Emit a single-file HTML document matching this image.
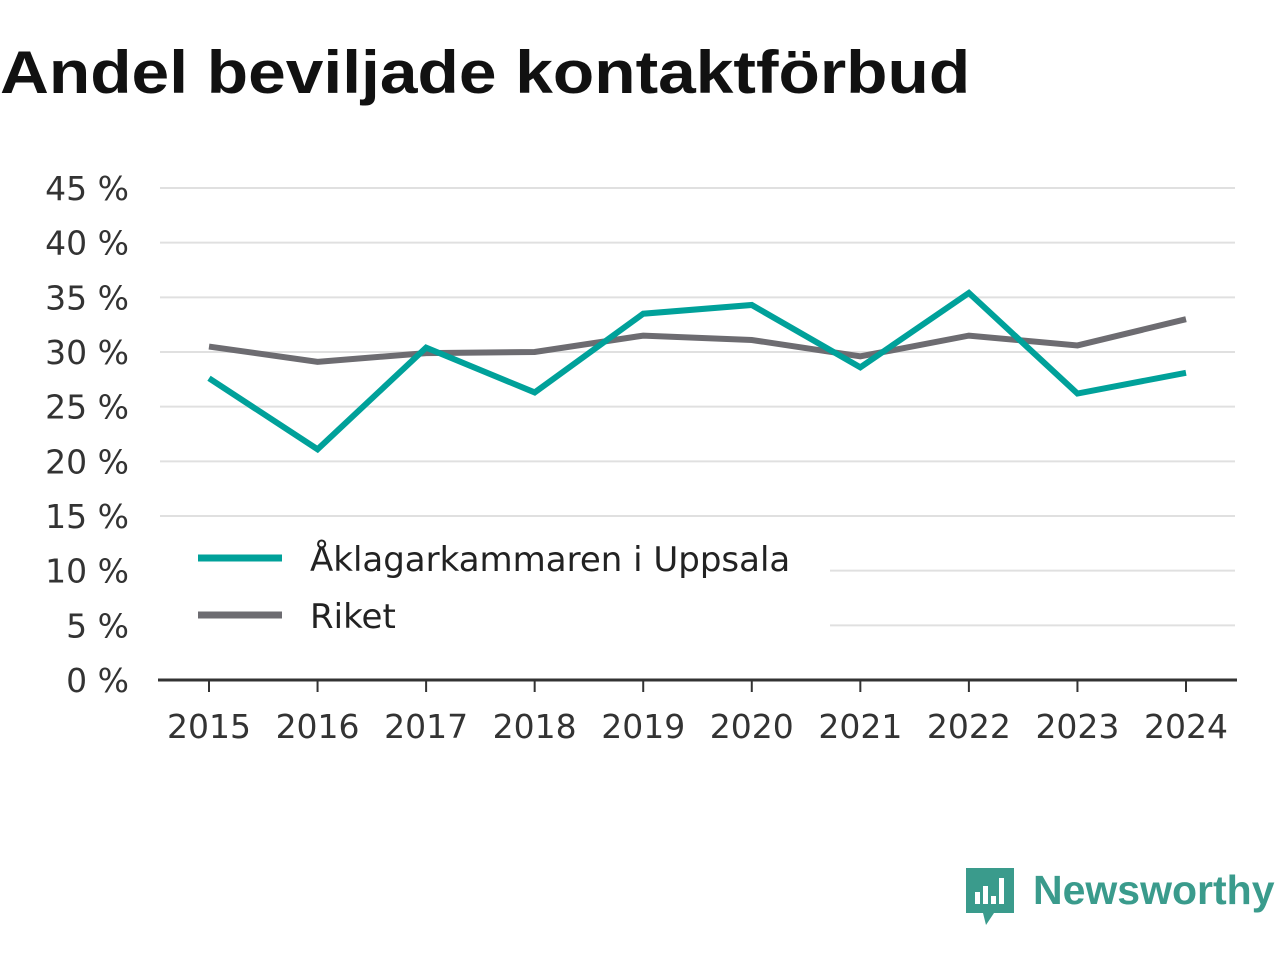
<!DOCTYPE html>
<html><head><meta charset="utf-8"><style>
body{margin:0;width:1280px;height:960px;background:#fff;font-family:"Liberation Sans","DejaVu Sans",sans-serif;overflow:hidden}
h1{position:absolute;left:0;top:38px;margin:0;font-size:60px;font-weight:bold;color:#111;transform:scaleX(1.128);transform-origin:0 0;white-space:nowrap}
</style></head><body>
<h1>Andel beviljade kontaktförbud</h1>
<svg id="c" width="1280" height="960" style="position:absolute;left:0;top:0"></svg>
<script>
const years=["2015","2016","2017","2018","2019","2020","2021","2022","2023","2024"];
const uppsala=[27.6,21.1,30.4,26.3,33.5,34.3,28.6,35.4,26.2,28.1];
const riket=[30.5,29.1,29.9,30.0,31.5,31.1,29.6,31.5,30.6,33.0];
const yTicks=[0,5,10,15,20,25,30,35,40,45];
const NS="http://www.w3.org/2000/svg";
const svg=document.getElementById('c');
const F='"DejaVu Sans", sans-serif';
function y(v){return 680-v*(680-188)/45;}
function x(i){return 209+i*(1186-209)/(years.length-1);}
function mk(t,a){const e=document.createElementNS(NS,t);for(const k in a)e.setAttribute(k,a[k]);svg.appendChild(e);return e;}
yTicks.forEach(v=>{
  if(v>0){const g=mk('line',{x1:160,x2:1235,y1:y(v),y2:y(v),stroke:'#e0e0e0','stroke-width':2});
  
  }
  const t=mk('text',{x:129,y:y(v)+12,'text-anchor':'end','font-size':33,fill:'#333','font-family':F});
  t.textContent=v+' %';
  
  
});
const ax=mk('line',{x1:158,x2:1237,y1:680,y2:680,stroke:'#333','stroke-width':3});


years.forEach((yr,i)=>{
  const tk=mk('line',{x1:x(i),x2:x(i),y1:680,y2:692,stroke:'#333','stroke-width':2});
  
  
  const t=mk('text',{x:x(i),y:738,'text-anchor':'middle','font-size':33,fill:'#333','font-family':F});
  t.textContent=yr;
  
  
});
function line(d,col,name){
  const p=mk('polyline',{points:d.map((v,i)=>x(i)+','+y(v)).join(' '),fill:'none',stroke:col,'stroke-width':6,'stroke-linejoin':'miter'});
  
  
}
line(riket,'#6d6c71','riket-line');
line(uppsala,'#00a19a','uppsala-line');
const lb=mk('rect',{x:160,y:527,width:670,height:115,fill:'#fff'});


[['Åklagarkammaren i Uppsala','#00a19a',558],['Riket','#6d6c71',615]].forEach(([n,c,yy])=>{
  const l=mk('line',{x1:198,x2:282,y1:yy,y2:yy,stroke:c,'stroke-width':7});
  
  
  const t=mk('text',{x:310,y:yy+13,'font-size':34,fill:'#222','font-family':F});
  t.textContent=n;
  
  
});
const lg=mk('path',{d:'M966 868 h48 v45 h-20 l-8 12 l-3 -12 h-17 z',fill:'#3a9b8c'});


[[975,892,5,12],[983,886,5,18],[991,896,5,8],[999,878,5,26]].forEach(r=>{
  const b=mk('rect',{x:r[0],y:r[1],width:r[2],height:r[3],fill:'#fff'});
  
  
});
const lt=mk('text',{x:1033,y:904,'font-size':41,fill:'#3a9b8c','font-weight':'bold'});
lt.textContent='Newsworthy';


</script>
</body></html>
